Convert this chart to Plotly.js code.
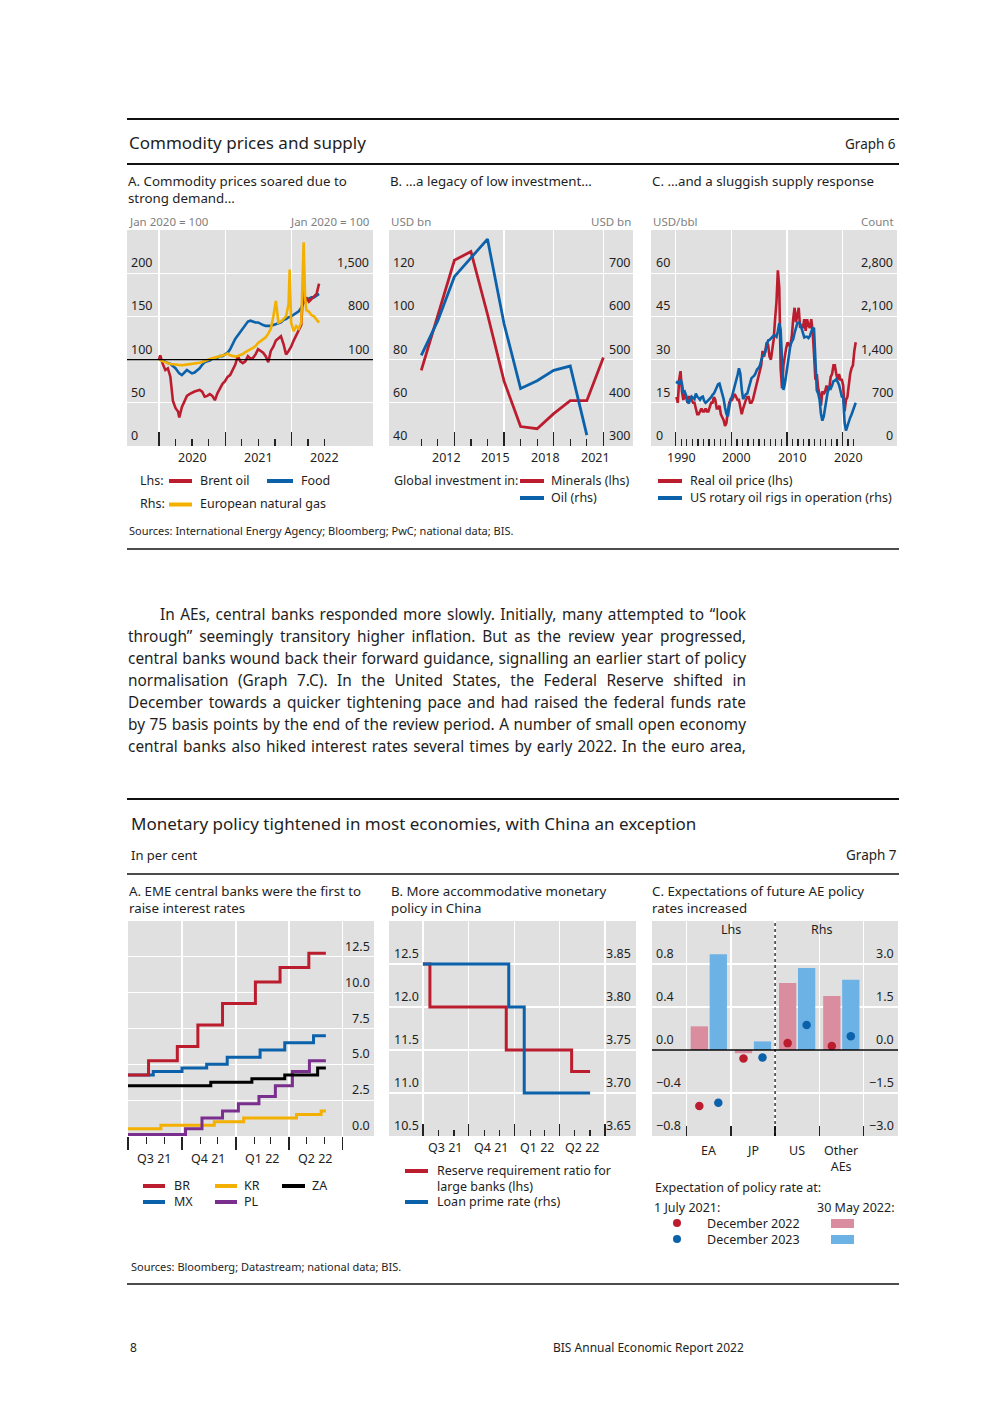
<!DOCTYPE html>
<html><head><meta charset="utf-8">
<script src="https://cdn.plot.ly/plotly-3.0.1.min.js"></script>
<style>
html,body{margin:0;padding:0;background:#fff;}
#page{position:relative;width:992px;height:1403px;overflow:hidden;}
#chart{position:absolute;left:0;top:0;width:992px;height:1403px;}
.pl{position:absolute;height:22px;line-height:22px;font-family:'Noto Sans','Open Sans',sans-serif;font-size:15.4px;color:#1e1e1e;white-space:nowrap;}
.pl span{display:inline-block;white-space:nowrap;}
</style></head><body>
<div id="page"><div id="chart"></div><div id="para"></div></div>
<script>
// ---------------- DATA ----------------
// Graph 6.A  (Jan 2020 = 100)
const g6a_dates = ['2020-01-01','2020-01-08','2020-01-22','2020-02-05','2020-02-19','2020-03-04','2020-03-18','2020-04-01','2020-04-15','2020-04-22',
 '2020-05-06','2020-05-20','2020-06-03','2020-06-17','2020-07-01','2020-07-15','2020-07-29','2020-08-12','2020-08-26','2020-09-09',
 '2020-09-23','2020-10-07','2020-10-21','2020-11-04','2020-11-18','2020-12-02','2020-12-16','2020-12-30','2021-01-13','2021-01-27',
 '2021-02-10','2021-02-24','2021-03-10','2021-03-24','2021-04-07','2021-04-21','2021-05-05','2021-05-19','2021-06-02','2021-06-16',
 '2021-06-30','2021-07-14','2021-07-28','2021-08-11','2021-08-25','2021-09-08','2021-09-22','2021-10-06','2021-10-20','2021-11-03',
 '2021-11-17','2021-12-01','2021-12-15','2021-12-21','2021-12-29','2022-01-12','2022-01-26','2022-02-09','2022-02-23','2022-03-08',
 '2022-03-16','2022-03-23','2022-04-06','2022-04-20','2022-05-04','2022-05-18','2022-06-01'];
const g6a_brent = [100,105,95,88,90,80,52,44,40,33, 45,52,58,60,62,63,64,65,63,57, 58,60,58,53,61,66,72,75,80,82,
 88,94,104,98,96,98,104,101,102,106, 112,110,108,104,97,110,115,122,125,127, 118,106,110,112,115,122,128,135,140,195,
 165,172,167,170,173,176,188];
const g6a_food = [100,100,99,97,96,95,93,90,86,84, 82,85,88,86,84,85,87,90,94,97, 98,99,101,101,102,104,104,106,108,112,
 118,124,128,132,137,141,144,145,144,143, 143,141,140,139,139,139,140,141,142,143, 146,147,149,149,150,152,154,156,160,167,
 170,169,171,172,172,174,176];
const g6a_gas = [100,90,70,50,40,30,20,20,15,10, 10,15,20,20,25,30,40,50,60,80, 100,110,120,130,140,150,160,180,200,170,
 160,150,160,170,190,220,240,260,290,320, 370,400,430,460,520,600,800,1050,700,720, 760,800,1000,1560,700,560,640,600,700,2000,
 1100,900,880,820,800,750,700];
const g6a_lhsTicks = [0,50,100,150,200];
const g6a_rhsTicks = [100,800,1500];
const g6a_yearTicks = ['2020-01-01','2021-01-01','2022-01-01'];
const g6a_quarterTicks = ['2020-04-01','2020-07-01','2020-10-01','2021-04-01','2021-07-01','2021-10-01','2022-04-01','2022-07-01'];
const g6a_yearLabels = ['2020','2021','2022'];

// Graph 6.B  (USD bn)
const g6b_years = [2010,2011,2012,2013,2014,2015,2016,2017,2018,2019,2020,2021];
const g6b_minerals = [75,100,126,130,101,70,49,48,55,61,61,81];
const g6b_oil = [510,590,692,735,779,583,433,451,475,485,325,null];
const g6b_lhsTicks = [40,60,80,100,120];
const g6b_rhsTicks = [300,400,500,600,700];
const g6b_labelYears = [2012,2015,2018,2021];
const g6b_minorYears = [2010,2011,2013,2014,2016,2017,2019,2020];

// Graph 6.C  quarterly from 1990 Q1
const g6c_start = 1990;
const g6c_oilPrice = [
 17,15,23,26, 19,16,18,17, 15,17,17,16, 15,15,13,11, 11,12,13,12, 12,13,12,12, 14,15,15,17, 16,13,13,14,
 11,10,9,7, 8,12,15,16, 16,17,18,17, 16,16,14,11, 13,15,16,17, 17,15,15,16, 18,20,22,24, 26,28,33,31,
 33,36,35,31, 30,33,37,44, 50,61,55,27, 20,28,32,34, 36,35,35,38, 44,48,43,45, 48,41,42,41, 44,40,44,42,
 41,44,40,32, 23,25,20,18, 14,19,18,19, 21,19,20,24, 25,28,28,25, 23,25,23,23, 21,12,16,17, 22,25,27,28, 33,36];
const g6c_rigs = [
 1010,1050,1000,1080, 1010,860,880,820, 720,690,760,800, 780,760,850,800, 780,750,790,800, 730,700,720,740,
 760,790,830,850, 900,940,1000,1010, 920,800,760,620, 520,480,620,760, 800,880,1000,1080, 1150,1260,1170,920,
 760,800,840,850, 940,1050,1100,1120, 1140,1180,1240,1260, 1300,1380,1460,1480, 1530,1630,1710,1720, 1740,1760,1790,1790,
 1770,1860,1990,1880, 1300,910,1000,1150, 1320,1500,1630,1690, 1730,1830,1930,1990, 2000,1980,1910,1810, 1760,1770,1770,1750,
 1780,1850,1910,1900, 1350,900,850,750, 520,410,480,600, 760,900,950,930, 980,1050,1060,1080, 1040,990,900,800,
 790,380,250,330, 400,460,510,570, 640,700];
const g6c_lhsTicks = [0,15,30,45,60];
const g6c_rhsTicks = [0,700,1400,2100,2800];
const g6c_decades = [1990,2000,2010,2020];

// Graph 7.A  policy rates (per cent)
const g7a_BR_d = ['2021-07-01','2021-08-05','2021-09-23','2021-10-28','2021-12-09','2022-02-03','2022-03-17','2022-05-05','2022-06-03'];
const g7a_BR_v = [4.25,5.25,6.25,7.75,9.25,10.75,11.75,12.75,12.75];
const g7a_MX_d = ['2021-07-01','2021-08-13','2021-10-01','2021-11-12','2021-12-17','2022-02-11','2022-03-25','2022-05-13','2022-06-03'];
const g7a_MX_v = [4.25,4.5,4.75,5.0,5.5,6.0,6.5,7.0,7.0];
const g7a_KR_d = ['2021-07-01','2021-08-26','2021-11-25','2022-01-14','2022-04-14','2022-05-26','2022-06-03'];
const g7a_KR_v = [0.5,0.75,1.0,1.25,1.5,1.75,1.75];
const g7a_ZA_d = ['2021-07-01','2021-11-19','2022-01-28','2022-03-25','2022-05-20','2022-06-03'];
const g7a_ZA_v = [3.5,3.75,4.0,4.25,4.75,4.75];
const g7a_PL_d = ['2021-07-01','2021-10-07','2021-11-04','2021-12-09','2022-01-05','2022-02-09','2022-03-09','2022-04-07','2022-05-06','2022-06-03'];
const g7a_PL_v = [0.1,0.5,1.25,1.75,2.25,2.75,3.5,4.5,5.25,5.25];
const g7a_ticks = [0,2.5,5,7.5,10,12.5];
const g7_quarterStarts = ['2021-07-01','2021-10-01','2022-01-01','2022-04-01','2022-07-01'];
const g7_months = ['2021-08-01','2021-09-01','2021-11-01','2021-12-01','2022-02-01','2022-03-01','2022-05-01','2022-06-01'];
const g7_quarterMid = ['2021-08-15','2021-11-15','2022-02-14','2022-05-16'];
const g7_quarterLabels = ['Q3 21','Q4 21','Q1 22','Q2 22'];

// Graph 7.B  China
const g7b_RRR_d = ['2021-07-01','2021-07-15','2021-12-15','2022-04-25','2022-06-01'];
const g7b_RRR_v = [12.5,12.0,11.5,11.25,11.25];
const g7b_LPR_d = ['2021-07-01','2021-12-20','2022-01-20','2022-06-01'];
const g7b_LPR_v = [3.85,3.80,3.70,3.70];
const g7b_lhsTicks = [10.5,11.0,11.5,12.0,12.5];
const g7b_rhsTicks = [3.65,3.70,3.75,3.80,3.85];

// Graph 7.C  expectations
const g7c_cats = ['EA','JP','US','Other<br>AEs'];
const g7c_side = ['lhs','lhs','rhs','rhs'];
const g7c_may22_dec22 = [0.22,-0.03,2.34,1.88];
const g7c_may22_dec23 = [0.89,0.08,2.86,2.45];
const g7c_jul21_dec22 = [-0.52,-0.08,0.24,0.14];
const g7c_jul21_dec23 = [-0.49,-0.07,0.87,0.48];
const g7c_lhsTicks = [-0.8,-0.4,0,0.4,0.8];
const g7c_rhsTicks = [-3.0,-1.5,0,1.5,3.0];

const paraLines = [
 'In AEs, central banks responded more slowly. Initially, many attempted to \u201Clook',
 'through\u201D seemingly transitory higher inflation. But as the review year progressed,',
 'central banks wound back their forward guidance, signalling an earlier start of policy',
 'normalisation (Graph 7.C). In the United States, the Federal Reserve shifted in',
 'December towards a quicker tightening pace and had raised the federal funds rate',
 'by 75 basis points by the end of the review period. A number of small open economy',
 'central banks also hiked interest rates several times by early 2022. In the euro area,'
];

// ---------------- STYLE ----------------
const RED='#bc1d2e', BLUE='#0b62ab', YEL='#f4b000', PURP='#7a2e8e', BLK='#000000', PINK='#d98d9f', LBLUE='#6cb2e4';
const BG='#e0e0e0', TXT='#1e1e1e', GREY='#808080';
const FONT="'Noto Sans','Open Sans','DejaVu Sans',sans-serif";
const W=992, H=1403;
const PX=x=>x/W, PY=y=>1-y/H;
const shapes=[], annotations=[];
function fnt(size,color){return {family:FONT,size:size||12.5,color:color||TXT};}
function text(t,x,y,size,anchor,color){
  annotations.push({text:t,x:PX(x),y:PY(y),xref:'paper',yref:'paper',xanchor:anchor||'left',yanchor:'middle',showarrow:false,font:fnt(size,color)});
}
function textTop(t,x,y,size){
  annotations.push({text:t,x:PX(x),y:PY(y),xref:'paper',yref:'paper',xanchor:'left',yanchor:'top',align:'left',showarrow:false,font:fnt(size)});
}
function hrule(y,w){shapes.push({type:'line',xref:'paper',yref:'paper',x0:PX(127),x1:PX(899),y0:PY(y),y1:PY(y),line:{color:'#111',width:w}});}
function keyLine(x0,x1,y,color){shapes.push({type:'line',xref:'paper',yref:'paper',x0:PX(x0),x1:PX(x1),y0:PY(y),y1:PY(y),line:{color:color,width:4}});}
const minus = s => s.replace('-','\u2212');
function yLabels(vals,axis,xpx,anchor,fmt){
  vals.forEach(v=>annotations.push({text:minus(fmt(v)),x:PX(xpx),xref:'paper',y:v,yref:axis,xanchor:anchor,yanchor:'bottom',showarrow:false,font:fnt(12.5)}));
}
function xLabels(vals,texts,axis,ypx){
  vals.forEach((v,i)=>annotations.push({text:texts[i],x:v,xref:axis,y:PY(ypx),yref:'paper',xanchor:'center',yanchor:'middle',showarrow:false,font:fnt(12.5)}));
}
const f0=v=>v.toLocaleString('en-US'), f1=v=>v.toFixed(1), f2=v=>v.toFixed(2);

// domains
function dx(a,b){return [PX(a),PX(b)];}
function dy(top,bot){return [PY(bot),PY(top)];}
const TK={ticks:'inside',tickcolor:'#222',tickwidth:1.3};
function xBase(extra){return Object.assign({showline:false,zeroline:false,showticklabels:false,showgrid:true,gridcolor:'#fff',gridwidth:1.3,fixedrange:true,tickmode:'array'},TK,extra);}
function yBase(extra){return Object.assign({showline:false,zeroline:false,showticklabels:false,showgrid:true,gridcolor:'#fff',gridwidth:1.3,ticks:'',fixedrange:true,tickmode:'array'},extra);}
function yOver(extra){return Object.assign({showline:false,zeroline:false,showticklabels:false,showgrid:false,ticks:'',fixedrange:true,side:'right'},extra);}

// ---------------- TRACES ----------------
const traces=[];
function line(x,y,xa,ya,color,width,shape){traces.push({type:'scatter',mode:'lines',x:x,y:y,xaxis:xa,yaxis:ya,line:{color:color,width:width,shape:shape||'linear'},hoverinfo:'skip',connectgaps:false});}
// 6A
line(g6a_dates,g6a_food,'x','y',BLUE,2.6);
line(g6a_dates,g6a_brent,'x','y',RED,2.6);
line(g6a_dates,g6a_gas,'x','y2',YEL,2.6);
// 6B
line(g6b_years,g6b_minerals,'x2','y3',RED,2.8);
line(g6b_years,g6b_oil,'x2','y4',BLUE,2.8);
// 6C
const g6c_x = g6c_oilPrice.map((_,i)=>g6c_start+i/4+0.125);
line(g6c_x,g6c_oilPrice,'x3','y5',RED,2.6);
line(g6c_x.slice(0,g6c_rigs.length),g6c_rigs,'x3','y6',BLUE,2.6);
// 7A
line(g7a_KR_d,g7a_KR_v,'x4','y7',YEL,3,'hv');
line(g7a_PL_d,g7a_PL_v,'x4','y7',PURP,3,'hv');
line(g7a_ZA_d,g7a_ZA_v,'x4','y7',BLK,3,'hv');
line(g7a_MX_d,g7a_MX_v,'x4','y7',BLUE,3,'hv');
line(g7a_BR_d,g7a_BR_v,'x4','y7',RED,3,'hv');
// 7B
line(g7b_RRR_d,g7b_RRR_v,'x5','y8',RED,3,'hv');
line(g7b_LPR_d,g7b_LPR_v,'x5','y9',BLUE,3,'hv');
// 7C
const BARGAP=0.14, BARGROUPGAP=0.09, DOFF=(1-BARGAP)/4;
['lhs','rhs'].forEach(side=>{
  const ya = side==='lhs'?'y10':'y11';
  const idx = g7c_cats.map((c,i)=>i).filter(i=>g7c_side[i]===side);
  traces.push({type:'bar',x:idx,y:idx.map(i=>g7c_may22_dec22[i]),xaxis:'x6',yaxis:ya,marker:{color:PINK},hoverinfo:'skip'});
  traces.push({type:'bar',x:idx,y:idx.map(i=>g7c_may22_dec23[i]),xaxis:'x6',yaxis:ya,marker:{color:LBLUE},hoverinfo:'skip'});
  traces.push({type:'scatter',mode:'markers',x:idx.map(i=>i-DOFF),y:idx.map(i=>g7c_jul21_dec22[i]),xaxis:'x6',yaxis:ya,marker:{color:RED,size:8.5},hoverinfo:'skip'});
  traces.push({type:'scatter',mode:'markers',x:idx.map(i=>i+DOFF),y:idx.map(i=>g7c_jul21_dec23[i]),xaxis:'x6',yaxis:ya,marker:{color:BLUE,size:8.5},hoverinfo:'skip'});
});

// ---------------- AXES ----------------
const layout={
  width:W,height:H,margin:{l:0,r:0,t:0,b:0},autosize:false,
  paper_bgcolor:'#fff',plot_bgcolor:BG,showlegend:false,
  font:{family:FONT,color:TXT},
  barmode:'group',bargap:BARGAP,bargroupgap:BARGROUPGAP,
  // 6A
  xaxis:xBase({domain:dx(127,373),anchor:'y',type:'date',range:['2019-07-09','2023-03-25'],tickvals:g6a_yearTicks,ticklen:14,
    minor:{tickmode:'array',tickvals:g6a_quarterTicks,ticks:'inside',ticklen:7,tickwidth:1.3,tickcolor:'#222',showgrid:false}}),
  yaxis:yBase({domain:dy(230,446),anchor:'x',range:[0,250],tickvals:g6a_lhsTicks}),
  yaxis2:yOver({overlaying:'y',anchor:'x',range:[-1300,2200]}),
  // 6B
  xaxis2:xBase({domain:dx(389,633),anchor:'y3',range:[2008.05,2022.79],tickvals:g6b_labelYears,ticklen:14,
    minor:{tickmode:'array',tickvals:g6b_minorYears,ticks:'inside',ticklen:7,tickwidth:1.3,tickcolor:'#222',showgrid:false}}),
  yaxis3:yBase({domain:dy(230,446),anchor:'x2',range:[40,140],tickvals:g6b_lhsTicks}),
  yaxis4:yOver({overlaying:'y3',anchor:'x2',range:[300,800]}),
  // 6C
  xaxis3:xBase({domain:dx(651,897),anchor:'y5',range:[1985.56,2029.8],tickvals:g6c_decades,ticklen:14,
    minor:{tickmode:'array',tickvals:Array.from({length:33},(_,i)=>1990+i).filter(y=>y%10!==0),ticks:'inside',ticklen:7,tickwidth:1.3,tickcolor:'#222',showgrid:false}}),
  yaxis5:yBase({domain:dy(230,446),anchor:'x3',range:[0,75],tickvals:g6c_lhsTicks}),
  yaxis6:yOver({overlaying:'y5',anchor:'x3',range:[0,3500]}),
  // 7A
  xaxis4:xBase({domain:dx(128,374),anchor:'y7',type:'date',range:['2021-07-01','2022-08-24'],tickvals:g7_quarterStarts,ticks:'outside',ticklen:13,
    minor:{tickmode:'array',tickvals:g7_months,ticks:'outside',ticklen:7,tickwidth:1.3,tickcolor:'#222',showgrid:false}}),
  yaxis7:yBase({domain:dy(921,1136),anchor:'x4',range:[0,15],tickvals:g7a_ticks}),
  // 7B
  xaxis5:xBase({domain:dx(389,636),anchor:'y8',type:'date',range:['2021-04-24','2022-09-01'],tickvals:g7_quarterStarts,ticklen:12.5,
    minor:{tickmode:'array',tickvals:g7_months,ticks:'inside',ticklen:6.5,tickwidth:1.3,tickcolor:'#222',showgrid:false}}),
  yaxis8:yBase({domain:dy(921,1136),anchor:'x5',range:[10.5,13.0],tickvals:g7b_lhsTicks}),
  yaxis9:yOver({overlaying:'y8',anchor:'x5',range:[3.65,3.90]}),
  // 7C
  xaxis6:xBase({domain:dx(652,898),anchor:'y10',range:[-1.287,4.284],tickvals:[-0.5,0.5,1.5,2.5,3.5],ticklen:10}),
  yaxis10:yBase({domain:dy(921,1136),anchor:'x6',range:[-0.8,1.2],tickvals:g7c_lhsTicks}),
  yaxis11:yOver({overlaying:'y10',anchor:'x6',range:[-3.0,4.5]}),
  shapes:shapes, annotations:annotations
};

// ---------------- TEXT & DECOR ----------------
const PT=13.3;
// Graph 6 header
hrule(119,2.2); hrule(164,2); hrule(549,1.5);
text('Commodity prices and supply',127,142,17);
text('Graph 6',898,144,13.5,'right');
textTop('A. Commodity prices soared due to<br>strong demand\u2026',126,170,PT);
textTop('B. \u2026a legacy of low investment\u2026',388,170,PT);
textTop('C. \u2026and a sluggish supply response',650,170,PT);
text('Jan 2020 = 100',127,221.5,11.5,'left',GREY);
text('Jan 2020 = 100',372,221.5,11.5,'right',GREY);
text('USD bn',389,221.5,11.5,'left',GREY);
text('USD bn',633,221.5,11.5,'right',GREY);
text('USD/bbl',651,221.5,11.5,'left',GREY);
text('Count',896,221.5,11.5,'right',GREY);
// 6A labels
yLabels(g6a_lhsTicks,'y',129,'left',f0);
yLabels(g6a_rhsTicks,'y2',371,'right',f0);
xLabels(g6a_yearTicks.map(d=>d.slice(0,4)+'-07-02'),g6a_yearLabels,'x',457.5);
shapes.push({type:'line',xref:'x domain',x0:0,x1:1,yref:'y',y0:100,y1:100,line:{color:'#000',width:1.3}});
// 6B labels
yLabels(g6b_lhsTicks,'y3',391,'left',f0);
yLabels(g6b_rhsTicks,'y4',632,'right',f0);
xLabels(g6b_labelYears.map(y=>y-0.5),g6b_labelYears.map(String),'x2',457.5);
// 6C labels
yLabels(g6c_lhsTicks,'y5',654,'left',f0);
yLabels(g6c_rhsTicks,'y6',895,'right',f0);
xLabels(g6c_decades.map(y=>y+1),g6c_decades.map(String),'x3',457.5);
// 6 legends
text('Lhs:',138,480.5,12.5); keyLine(169,192,481,RED); text('Brent oil',198,480.5,12.5);
keyLine(267,293,481,BLUE); text('Food',299,480.5,12.5);
text('Rhs:',138,504,12.5); keyLine(169,192,504.5,YEL); text('European natural gas',198,504,12.5);
text('Global investment in:',392,480.5,12.5); keyLine(520,544,481,RED); text('Minerals (lhs)',549,480.5,12.5);
keyLine(520,544,498,BLUE); text('Oil (rhs)',549,497.5,12.5);
keyLine(658,682,481,RED); text('Real oil price (lhs)',688,480.5,12.5);
keyLine(658,682,498,BLUE); text('US rotary oil rigs in operation (rhs)',688,497.5,12.5);
text('Sources: International Energy Agency; Bloomberg; PwC; national data; BIS.',127,530.5,11);

// Graph 7 header
hrule(799,2.2); hrule(874,1.5); hrule(1284,1.5);
text('Monetary policy tightened in most economies, with China an exception',129,823,17);
text('In per cent',129,855,13);
text('Graph 7',899,855,13.5,'right');
textTop('A. EME central banks were the first to<br>raise interest rates',127,880,PT);
textTop('B. More accommodative monetary<br>policy in China',389,880,PT);
textTop('C. Expectations of future AE policy<br>rates increased',650,880,PT);
// 7A
yLabels(g7a_ticks,'y7',372,'right',f1);
xLabels(g7_quarterMid,g7_quarterLabels,'x4',1158.5);
// 7B
yLabels(g7b_lhsTicks,'y8',392,'left',f1);
yLabels(g7b_rhsTicks,'y9',633,'right',f2);
xLabels(g7_quarterMid,g7_quarterLabels,'x5',1147.5);
// 7C
yLabels(g7c_lhsTicks,'y10',654,'left',f1);
yLabels(g7c_rhsTicks,'y11',896,'right',f1);
g7c_cats.forEach((c,i)=>annotations.push({text:c,x:i,xref:'x6',y:PY(1140),yref:'paper',xanchor:'center',yanchor:'top',showarrow:false,font:fnt(12.5)}));
annotations.push({text:'Lhs',x:0.5,xref:'x6',y:PY(929),yref:'paper',xanchor:'center',yanchor:'middle',showarrow:false,font:fnt(12.5)});
annotations.push({text:'Rhs',x:2.57,xref:'x6',y:PY(929),yref:'paper',xanchor:'center',yanchor:'middle',showarrow:false,font:fnt(12.5)});
shapes.push({type:'line',xref:'x6 domain',x0:0,x1:1,yref:'y10',y0:0,y1:0,line:{color:'#000',width:1.3}});
shapes.push({type:'line',xref:'x6',x0:1.5,x1:1.5,yref:'y10 domain',y0:0,y1:1,line:{color:'#000',width:1.2,dash:'dot'}});
// 7 legends
keyLine(143,165,1186,RED); text('BR',172,1185.5,12.5);
keyLine(215,237,1186,YEL); text('KR',242,1185.5,12.5);
keyLine(282,305,1186,BLK); text('ZA',310,1185.5,12.5);
keyLine(143,165,1202,BLUE); text('MX',172,1201.5,12.5);
keyLine(215,237,1202,PURP); text('PL',242,1201.5,12.5);
keyLine(405,428,1171,RED); text('Reserve requirement ratio for',434.5,1170.5,12.5);
text('large banks (lhs)',434.5,1186,12.5);
keyLine(405,428,1202,BLUE); text('Loan prime rate (rhs)',434.5,1201.5,12.5);
text('Expectation of policy rate at:',653,1187.5,12.5);
text('1 July 2021:',652,1207.5,12.5);
text('30 May 2022:',896,1207.5,12.5,'right');
shapes.push({type:'circle',xref:'paper',yref:'paper',x0:PX(673),x1:PX(681),y0:PY(1227),y1:PY(1219),fillcolor:RED,line:{width:0}});
shapes.push({type:'circle',xref:'paper',yref:'paper',x0:PX(673),x1:PX(681),y0:PY(1243),y1:PY(1235),fillcolor:BLUE,line:{width:0}});
text('December 2022',705,1223.5,12.5);
text('December 2023',705,1239.5,12.5);
shapes.push({type:'rect',xref:'paper',yref:'paper',x0:PX(831),x1:PX(854),y0:PY(1228),y1:PY(1219),fillcolor:PINK,line:{width:0}});
shapes.push({type:'rect',xref:'paper',yref:'paper',x0:PX(831),x1:PX(854),y0:PY(1244),y1:PY(1235),fillcolor:LBLUE,line:{width:0}});
text('Sources: Bloomberg; Datastream; national data; BIS.',129,1266,11);
// footer
text('8',128,1347.5,12);
text('BIS Annual Economic Report 2022',746,1347.5,12,'right');

Plotly.newPlot('chart',traces,layout,{staticPlot:true,displayModeBar:false});

// paragraph (justified line by line)
const para=document.getElementById('para');
paraLines.forEach((t,i)=>{
  const indent = i===0?32:0;
  const d=document.createElement('div'); d.className='pl';
  d.style.top=(604+i*22)+'px'; d.style.left=(128+indent)+'px';
  const s=document.createElement('span'); s.textContent=t; d.appendChild(s); para.appendChild(d);
  const w=s.getBoundingClientRect().width;
  const n=(t.match(/ /g)||[]).length;
  if(n>0) s.style.wordSpacing=((618-indent-w)/n)+'px';
});
</script></body></html>
